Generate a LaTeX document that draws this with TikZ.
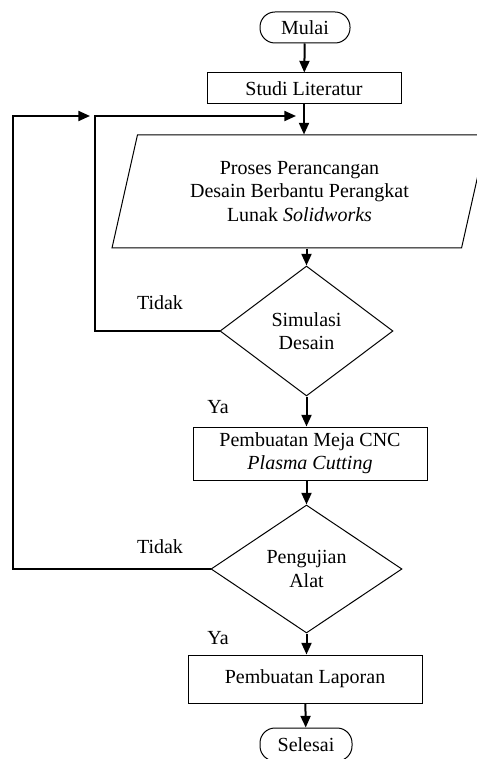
\documentclass[tikz,border=0pt]{standalone}
\usepackage{fontspec}
\setmainfont{Liberation Serif}
\usetikzlibrary{shapes.geometric,arrows.meta}

\begin{document}
\begin{tikzpicture}[x=0.6pt,y=-0.6pt,
  font=\fontsize{12}{14}\selectfont,
  box/.style={draw,line width=0.6pt,inner sep=0pt,align=center},
  term/.style={box,rectangle,rounded corners=9pt},
  proc/.style={box,rectangle},
  io/.style={box,trapezium,trapezium left angle=67,trapezium right angle=113,
    trapezium stretches body=true},
  cond/.style={box,diamond},
  flow/.style={-{Triangle[length=7pt,width=6pt]},line width=1.2pt}]

  \useasboundingbox (0,0) rectangle (477,759);

  % blocks
  \node[term,minimum width=54pt,minimum height=18.6pt] (mulai) at (305,27.5) {Mulai};
  \node[proc,minimum width=116.4pt,minimum height=18.6pt] (studi) at (304,88.5) {Studi Literatur};
  \node[io,minimum width=225pt,minimum height=67.8pt] (proses) at (299.5,191.5)
    {Proses Perancangan\\Desain Berbantu Perangkat\\Lunak \textit{Solidworks}};
  \node[cond,minimum width=103.8pt,minimum height=78pt] (sim) at (306.5,331) {Simulasi\\Desain};
  \node[proc,minimum width=140.4pt,minimum height=31.8pt] (meja) at (310,453.5)
    {Pembuatan Meja CNC\\\textit{Plasma Cutting}};
  \node[cond,minimum width=114.6pt,minimum height=76.8pt] (uji) at (306.5,569) {Pengujian\\Alat};
  \node[proc,minimum width=140.4pt,minimum height=28.8pt] (lapor) at (305,679) {Pembuatan Laporan};
  \node[term,minimum width=55.2pt,minimum height=19.8pt] (selesai) at (306,744.5) {Selesai};

  % labels
  \node (tidak1) at (160,303) {Tidak};
  \node (ya1) at (218,407) {Ya};
  \node (tidak2) at (160,547) {Tidak};
  \node (ya2) at (218,638) {Ya};

  % main flow
  \draw[flow] (mulai) -- (studi);
  \draw[flow] (studi) -- (studi |- proses.north);
  \draw[flow] (sim.north |- proses.south) -- (sim.north);
  \draw[flow] (sim.south) -- (sim.south |- meja.north);
  \draw[flow] (uji.north |- meja.south) -- (uji.north);
  \draw[flow] (uji.south) -- (uji.south |- lapor.north);
  \draw[flow] (lapor) -- (selesai);

  % back loops
  \coordinate (k1) at (95,116);
  \coordinate (j1) at (296,116);
  \coordinate (k2) at (13,116);
  \coordinate (j2) at (90,116);
  \draw[flow] (sim.west) -| (k1) -- (j1);
  \draw[flow] (uji.west) -| (k2) -- (j2);
\end{tikzpicture}
\end{document}
